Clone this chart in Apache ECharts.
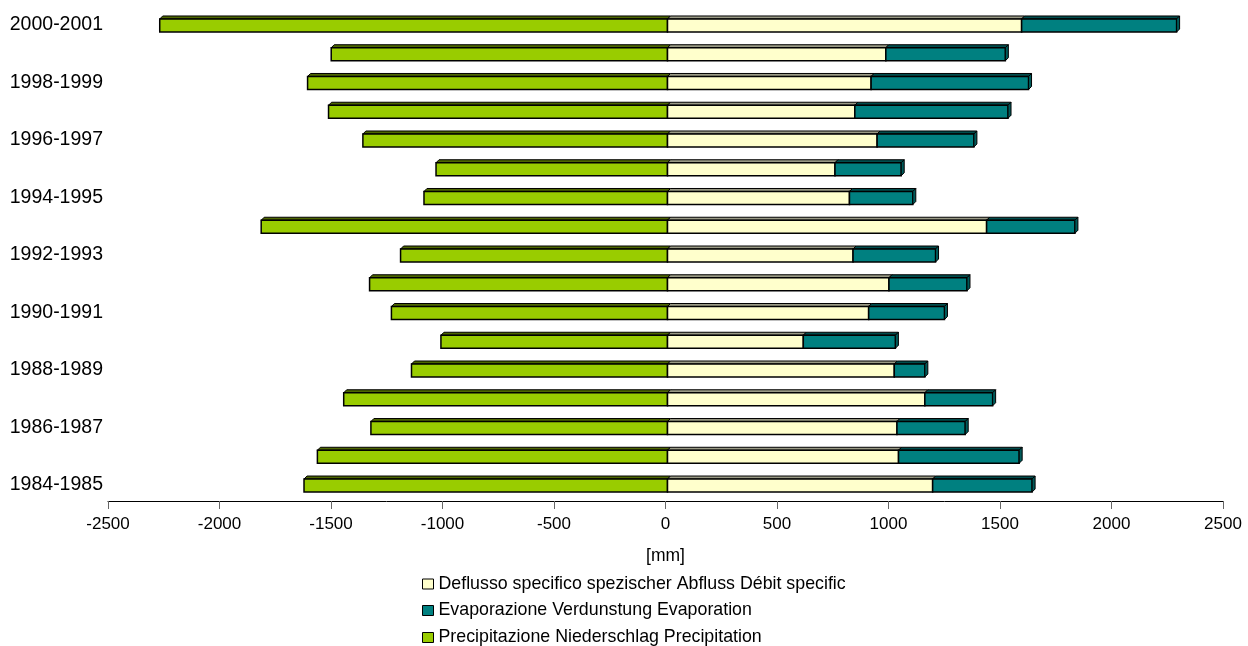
<!DOCTYPE html>
<html>
<head>
<meta charset="utf-8">
<script src="https://cdn.jsdelivr.net/npm/echarts@6/dist/echarts.min.js"></script>
<style>
html,body{margin:0;padding:0;background:#fff;}
#chart{width:1248px;height:646px;}
</style>
</head>
<body>
<div id="chart"></div>
<script>
const categories = ['1984-1985','1985-1986','1986-1987','1987-1988','1988-1989','1989-1990','1990-1991','1991-1992','1992-1993','1993-1994','1994-1995','1995-1996','1996-1997','1997-1998','1998-1999','1999-2000','2000-2001'];
const deflusso = [1189,1036,1029,1154,1017,609,902,993,832,1431,816,751,940,840,913,979,1588];
const evaporazione = [446,541,306,304,137,413,340,350,370,396,284,297,434,687,706,536,695];
const precipitazione = [-1630,-1570,-1330,-1452,-1148,-1016,-1238,-1336,-1197,-1822,-1092,-1038,-1366,-1520,-1614,-1508,-2277];
const xTicks = {min:-2500, max:2500, interval:500};
const names = ['Deflusso specifico spezischer Abfluss Débit specific','Evaporazione Verdunstung Evaporation','Precipitazione Niederschlag Precipitation'];

const FONT = '"Liberation Sans", Arial, sans-serif';

function make3D(front, topC, sideC, withSide){
  return function(params, api){
    const s = api.value(0), e = api.value(1), cat = api.value(2);
    const p0 = api.coord([s, cat]);
    const p1 = api.coord([e, cat]);
    const dx = 2, h = 13, d = 3;
    const x0 = Math.min(p0[0], p1[0]) + dx;
    const x1 = Math.max(p0[0], p1[0]) + dx;
    const top = p0[1] - h/2 + 0.5;
    const children = [
      {type:'polygon', shape:{points:[[x0,top],[x0+d,top-d],[x1+d,top-d],[x1,top]]},
        style:{fill:topC, stroke:'#000', lineWidth:1}},
      {type:'rect', shape:{x:x0, y:top, width:x1-x0, height:h},
        style:{fill:front, stroke:'#000', lineWidth:1.5}}
    ];
    if (withSide) {
      children.push({type:'polygon', shape:{points:[[x1,top],[x1+d,top-d],[x1+d,top-d+h],[x1,top+h]]},
        style:{fill:sideC, stroke:'#000', lineWidth:1}});
    }
    return {type:'group', children};
  };
}

const precipData = precipitazione.map((v,i)=>[0, v, i]);
const deflData = deflusso.map((v,i)=>[0, v, i]);
const evapData = evaporazione.map((v,i)=>[deflusso[i], deflusso[i]+v, i]);

function legendFor(name, top){
  return {
    orient:'vertical', left:422, top:top, padding:0,
    icon:'rect', itemWidth:11, itemHeight:10, itemGap:0,
    itemStyle:{borderColor:'#000', borderWidth:1},
    textStyle:{fontSize:17.8, color:'#000', fontFamily:FONT},
    data:[name], selectedMode:false
  };
}

const chart = echarts.init(document.getElementById('chart'), null, {renderer:'canvas'});
chart.setOption({
  animation:false,
  backgroundColor:'#ffffff',
  textStyle:{fontFamily:FONT},
  grid:{left:108, right:25, top:10.6, bottom:146.6, containLabel:false},
  legend:[legendFor(names[0], 575), legendFor(names[1], 601.5), legendFor(names[2], 628.5)],
  xAxis:{
    type:'value', min:xTicks.min, max:xTicks.max, interval:xTicks.interval,
    offset:1.6,
    name:'[mm]', nameLocation:'middle', nameGap:46,
    nameTextStyle:{fontSize:17.5, color:'#000', fontFamily:FONT},
    axisLine:{show:true, onZero:false, lineStyle:{color:'#000', width:1}},
    axisTick:{show:true, length:8, lineStyle:{color:'#666'}},
    axisLabel:{fontSize:17, color:'#000', margin:15, fontFamily:FONT,
      formatter:function(v){ return String(v); }},
    splitLine:{show:false}
  },
  yAxis:{
    type:'category', data:categories,
    axisLine:{show:false, onZero:false},
    axisTick:{show:false},
    axisLabel:{interval:1, fontSize:19.5, color:'#000', margin:5, fontFamily:FONT},
    splitLine:{show:false}
  },
  series:[
    {name:names[2], type:'custom', renderItem:make3D('#99CC00','#4D6600','#4D6600',false),
      itemStyle:{color:'#99CC00'}, encode:{x:[0,1], y:2}, data:precipData, z:2},
    {name:names[0], type:'custom', renderItem:make3D('#FFFFCC','#9A9A85','#9A9A85',false),
      itemStyle:{color:'#FFFFCC'}, encode:{x:[0,1], y:2}, data:deflData, z:3},
    {name:names[1], type:'custom', renderItem:make3D('#008080','#004D4D','#005A5A',true),
      itemStyle:{color:'#008080'}, encode:{x:[0,1], y:2}, data:evapData, z:4}
  ]
});
</script>
</body>
</html>
